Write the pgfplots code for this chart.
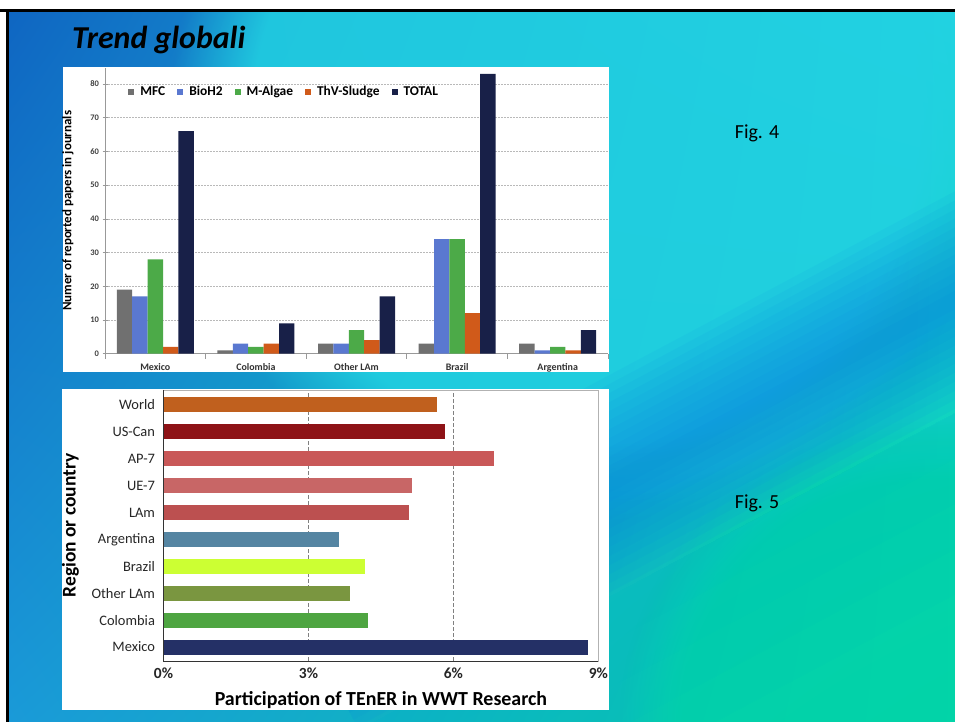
\documentclass[border=0pt]{standalone}
\usepackage{fontspec}
\setmainfont{Carlito}
\usepackage{pgfplots}
\pgfplotsset{compat=1.18}
\usetikzlibrary{fadings,shadings}

\definecolor{cAP}{HTML}{C95858}
\definecolor{cUE}{HTML}{C86666}
\definecolor{cLA}{HTML}{BC5050}

\definecolor{bgUL}{HTML}{0F66C2}
\definecolor{bgUR}{HTML}{22D4E2}
\definecolor{bgLL}{HTML}{1A9AD8}
\definecolor{bgLR}{HTML}{02D4A8}
\definecolor{bgCy}{HTML}{22D2E2}
\definecolor{bgBl}{HTML}{0A84E2}
\definecolor{bgTeal}{HTML}{00BCC8}

\definecolor{cMFC}{HTML}{707070}
\definecolor{cBio}{HTML}{5A78D0}
\definecolor{cAlg}{HTML}{4CAA48}
\definecolor{cThv}{HTML}{D05A1A}
\definecolor{cTot}{HTML}{182048}

\definecolor{cWorld}{HTML}{C0601E}
\definecolor{cUSC}{HTML}{8E1317}
\definecolor{cArg}{HTML}{5585A2}
\definecolor{cBra}{HTML}{CCFF33}
\definecolor{cOth}{HTML}{7A9640}
\definecolor{cCol}{HTML}{4EA541}
\definecolor{cMex}{HTML}{243066}

\begin{document}
\begin{tikzpicture}[x=1bp,y=1bp]
\fill[white] (0,0) rectangle (955,722);
% background
\shade[upper left=bgUL, upper right=bgUR, lower left=bgLL, lower right=bgLR] (8.7,0) rectangle (955,710);
\begin{scope}
\clip (8.7,0) rectangle (955,710);
\fill[bgCy, opacity=0.85, path fading=circle with fuzzy edge 20 percent] (170,200) rectangle (1000,1000);
\fill[bgLR, opacity=0.8, path fading=circle with fuzzy edge 20 percent] (620,-300) rectangle (1250,300);
\begin{scope}[rotate around={28:(782,330)}]
\foreach \w in {8,16,...,96} {\fill[bgBl, opacity=0.075] (250,330-\w) rectangle (1400,330+\w);}
\foreach \w in {40,80,...,160} {\fill[bgTeal, opacity=0.06] (250,330-100-\w) rectangle (1400,330-100);}
\end{scope}
\end{scope}
\fill[black] (0,710) rectangle (955,712.5);
\fill[black] (6,0) rectangle (8.7,712.5);

% panels
\fill[white] (63,350) rectangle (609,655);
\fill[white] (62,12) rectangle (609,333);

% title and captions
\node[anchor=base west, inner sep=0pt, font=\bfseries\itshape\fontsize{32}{35}\selectfont] at (72,673) {Trend globali};
\node[font=\fontsize{20}{22}\selectfont] at (757,589) {Fig. 4};
\node[font=\fontsize{20}{22}\selectfont] at (757,219) {Fig. 5};

% Fig 4
\begin{axis}[
  at={(105bp,368.3bp)}, anchor=south west, scale only axis,
  width=503bp, height=285.7bp,
  ybar=0pt, bar width=15.4bp,
  xmin=-0.5, xmax=4.5, ymin=0, ymax=84.75,
  /pgf/number format/assume math mode=true,
  xtick={0,...,4},
  xticklabels={Mexico,Colombia,Other LAm,Brazil,Argentina},
  xtick style={draw=none},
  extra x ticks={-0.5,0.5,1.5,2.5,3.5,4.5},
  extra x tick labels={},
  extra x tick style={xtick style={draw=gray!80, line width=0.8bp}, major tick length=5bp, tick align=outside},
  ytick={0,10,...,80},
  ymajorgrids, grid style={dash pattern=on 1.5bp off 1.5bp, gray!55, line width=0.5bp},
  axis x line*=bottom, axis y line*=left,
  axis line style={gray!80, line width=0.8bp},
  ytick style={draw=gray!80, line width=0.6bp}, ytick align=center, major tick length=5bp,
  yticklabel style={font=\bfseries\fontsize{8.5}{9}\selectfont, text=black!75},
  xticklabel style={font=\bfseries\fontsize{10}{11}\selectfont, text=black!80, yshift=-1bp},
  ylabel={Numer of reported papers in journals},
  ylabel style={at={(axis description cs:-0.0736,0.5)}, anchor=center, font=\bfseries\fontsize{13}{14}\selectfont},
  legend columns=5,
  legend style={at={(0.046,0.917)}, anchor=west, draw=none, fill=none,
    font=\bfseries\fontsize{13.5}{14}\selectfont, inner sep=0pt,
    /tikz/every odd column/.append style={column sep=4bp},
    /tikz/every even column/.append style={column sep=10bp}},
  legend image code/.code={\fill[#1] (0bp,-3bp) rectangle (6bp,3bp);},
]
\addplot[fill=cMFC, draw=none] coordinates {(0,19) (1,1) (2,3) (3,3) (4,3)};
\addplot[fill=cBio, draw=none] coordinates {(0,17) (1,3) (2,3) (3,34) (4,1)};
\addplot[fill=cAlg, draw=none] coordinates {(0,28) (1,2) (2,7) (3,34) (4,2)};
\addplot[fill=cThv, draw=none] coordinates {(0,2) (1,3) (2,4) (3,12) (4,1)};
\addplot[fill=cTot, draw=none] coordinates {(0,66) (1,9) (2,17) (3,83) (4,7)};
\legend{MFC,BioH2,M-Algae,ThV-Sludge,TOTAL}
\end{axis}

% Fig 5
\begin{axis}[
  at={(163.5bp,61bp)}, anchor=south west, scale only axis,
  width=434.9bp, height=271bp,
  xbar, bar width=15bp,
  xmin=0, xmax=9, ymin=-0.52, ymax=9.55,
  xtick={0,3,6,9}, xticklabels={0\%,3\%,6\%,9\%},
  ytick={0,...,9},
  yticklabels={Mexico,Colombia,Other LAm,Brazil,Argentina,LAm,UE-7,AP-7,US-Can,World},
  major tick length=0pt,
  xmajorgrids, grid style={dash pattern=on 3.5bp off 2.5bp, gray, line width=0.6bp},
  axis line style={gray!60, line width=0.7bp},
  xticklabel style={font=\bfseries\fontsize{15.5}{16}\selectfont, text=black!85, yshift=-3bp},
  yticklabel style={font=\fontsize{14.5}{15}\selectfont, text=black!85, xshift=-5bp},
  xlabel={Participation of TEnER in WWT Research},
  xlabel style={at={(axis description cs:0.5,-0.144)}, anchor=center, font=\bfseries\fontsize{20}{22}\selectfont},
  ylabel={Region or country},
  ylabel style={at={(axis description cs:-0.214,0.5)}, anchor=center, font=\bfseries\fontsize{19.5}{21}\selectfont},
]
\addplot[fill=cMex, draw=none, bar shift=0pt] coordinates {(8.78,0)};
\addplot[fill=cCol, draw=none, bar shift=0pt] coordinates {(4.23,1)};
\addplot[fill=cOth, draw=none, bar shift=0pt] coordinates {(3.86,2)};
\addplot[fill=cBra, draw=none, bar shift=0pt] coordinates {(4.17,3)};
\addplot[fill=cArg, draw=none, bar shift=0pt] coordinates {(3.64,4)};
\addplot[fill=cLA, draw=none, bar shift=0pt] coordinates {(5.08,5)};
\addplot[fill=cUE, draw=none, bar shift=0pt] coordinates {(5.14,6)};
\addplot[fill=cAP, draw=none, bar shift=0pt] coordinates {(6.84,7)};
\addplot[fill=cUSC, draw=none, bar shift=0pt] coordinates {(5.83,8)};
\addplot[fill=cWorld, draw=none, bar shift=0pt] coordinates {(5.65,9)};
\end{axis}
\draw[black!80, line width=0.8bp] (163.5,332) -- (163.5,61) -- (598.4,61);
\pgfresetboundingbox
\useasboundingbox (0,0) rectangle (955,722);
\end{tikzpicture}
\end{document}
